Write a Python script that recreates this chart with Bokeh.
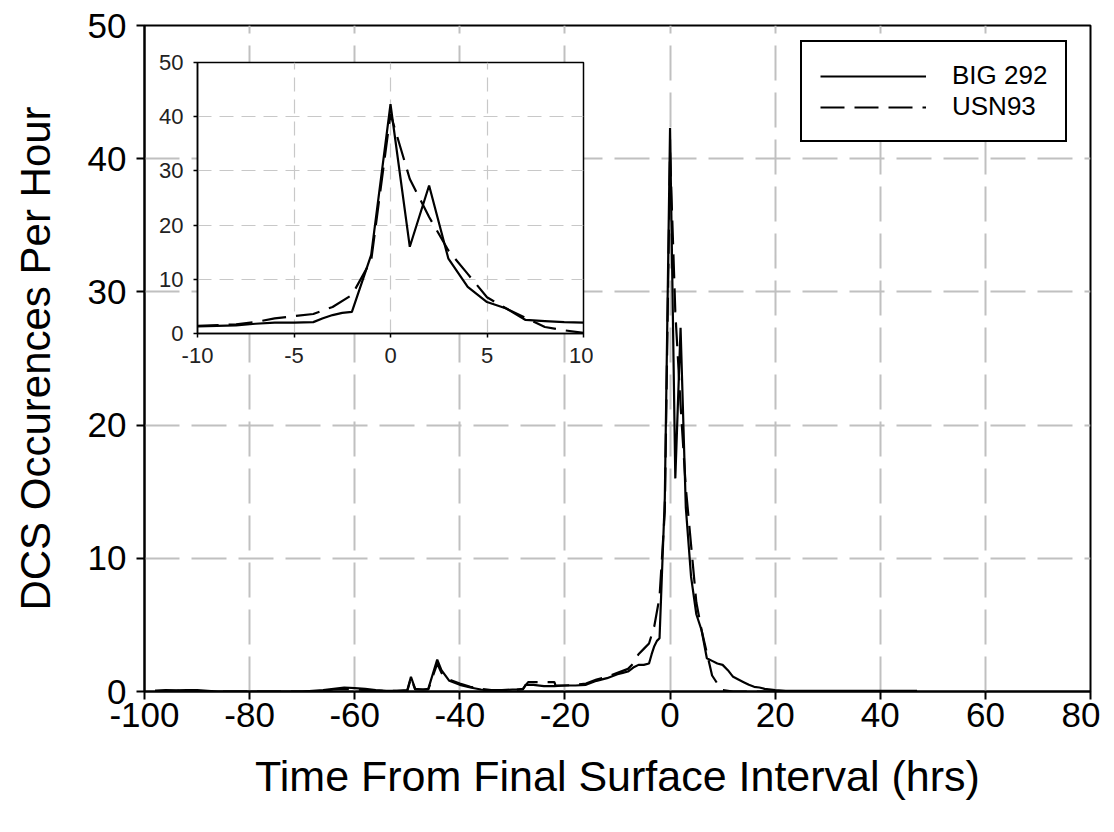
from bokeh.plotting import figure
from bokeh.layouts import column
from bokeh.models import Range1d, Legend, LegendItem
from bokeh.embed import file_html
from bokeh.resources import INLINE

# ---- data ----
big_x = [-98, -96, -94, -92, -90, -88, -86, -70, -66, -64, -62, -60, -58, -56, -54, -52, -50,
         -49.3, -48.5, -47, -46, -45, -44.3, -43.5, -42,
         -40, -38, -36, -34, -32, -30, -28, -27.5, -26, -24, -22, -20, -18, -16, -14, -12, -10,
         -9, -8, -7, -6, -5, -4, -3.5, -3, -2.5, -2, -1, 0,
         1, 2, 3, 4, 5, 6, 7, 8, 9, 10, 11, 12, 13, 14, 15, 16, 17, 18,
         20, 22, 30, 40, 47]
big_y = [0.05, 0.1, 0.08, 0.1, 0.1, 0.05, 0, 0, 0.1, 0.2, 0.3, 0.25, 0.2, 0.1, 0.05, 0.05, 0.1,
         1.1, 0.2, 0.15, 0.2, 1.5, 2.4, 1.6, 0.8,
         0.5, 0.3, 0.15, 0.05, 0.1, 0.15, 0.15, 0.5, 0.5, 0.4, 0.4, 0.45, 0.45, 0.5, 0.8, 1.0, 1.3,
         1.4, 1.5, 1.8, 2.0, 2.0, 2.1, 2.8, 3.4, 3.8, 4.0, 14.5, 42.3,
         16.0, 27.3, 13.8, 8.6, 5.8, 4.6, 2.5, 2.3, 2.1, 2.0, 1.6, 1.1, 0.9, 0.7, 0.5, 0.35, 0.3, 0.2,
         0.1, 0.05, 0.05, 0.05, 0.05]

usn_x = [-98, -90, -88, -70, -66, -64, -62, -60, -58, -56,
         -52, -50, -49.3, -48.5, -46, -45, -44.3, -43.5, -42, -40,
         -38, -36, -34, -30, -28, -27, -24, -22, -21.8, -20,
         -18, -16, -14, -12, -10, -8, -7, -6, -5, -4,
         -3, -2, -1, 0, 1, 2, 3, 4, 5, 6,
         7, 8, 9, 10, 12, 20, 47]
usn_y = [0.05, 0.05, 0, 0, 0.05, 0.15, 0.2, 0.15, 0.1, 0.05,
         0.05, 0.05, 1.0, 0.15, 0.15, 1.3, 2.1, 1.4, 0.9, 0.6,
         0.35, 0.2, 0.1, 0.1, 0.2, 0.7, 0.7, 0.7, 0.45, 0.45,
         0.5, 0.6, 0.9, 1.1, 1.4, 1.7, 2.1, 2.8, 3.2, 3.6,
         4.9, 7.1, 13.5, 40.5, 28.5, 21.5, 15.3, 11.0, 6.7, 4.6,
         2.9, 1.2, 0.6, 0.1, 0, 0, 0]

series_names = ["BIG 292", "USN93"]
main_x_ticks = [-100, -80, -60, -40, -20, 0, 20, 40, 60, 80]
main_y_ticks = [0, 10, 20, 30, 40, 50]
inset_x_ticks = [-10, -5, 0, 5, 10]
inset_y_ticks = [0, 10, 20, 30, 40, 50]

FONT = "Liberation Sans"
DASH = "24 10"
LEFT_BORDER = 144
RIGHT_BORDER = 10

# ---- main figure ----
p = figure(width=1100, height=816, x_range=Range1d(-100, 80), y_range=Range1d(0, 50),
           output_backend="svg", toolbar_location=None,
           min_border_left=LEFT_BORDER, min_border_right=RIGHT_BORDER,
           min_border_top=25, min_border_bottom=125)
p.background_fill_color = "white"
p.border_fill_color = "white"
p.outline_line_color = "black"
p.outline_line_width = 2

p.xaxis.ticker = main_x_ticks
p.yaxis.ticker = main_y_ticks
p.xaxis.major_label_overrides = {t: str(t) for t in main_x_ticks}
p.yaxis.major_label_overrides = {t: str(t) for t in main_y_ticks}
for ax in (p.xaxis[0], p.yaxis[0]):
    ax.axis_line_width = 2
    ax.axis_line_color = "black"
    ax.major_tick_line_width = 2
    ax.major_tick_line_color = "black"
    ax.major_tick_out = 8
    ax.major_tick_in = 0
    ax.minor_tick_line_color = None
    ax.major_label_text_font = FONT
    ax.major_label_text_font_size = "35px"
    ax.major_label_text_color = "black"
    ax.axis_label_text_font = FONT
    ax.axis_label_text_font_style = "normal"
    ax.axis_label_text_color = "black"
p.xaxis.axis_label = "Time From Final Surface Interval (hrs)"
p.yaxis.axis_label = "DCS Occurences Per Hour"
p.xaxis.axis_label_text_font_size = "43px"
p.yaxis.axis_label_text_font_size = "42px"
p.xaxis.major_label_standoff = 3
p.yaxis.major_label_standoff = 10
p.xaxis.axis_label_standoff = 22
p.yaxis.axis_label_standoff = 26

for g in (p.xgrid[0], p.ygrid[0]):
    g.grid_line_color = "#c0c0c0"
    g.grid_line_width = 2
    g.grid_line_dash = "35 12"

r1 = p.line(big_x, big_y, line_color="black", line_width=2.2)
r2 = p.line(usn_x, usn_y, line_color="black", line_width=2.2, line_dash=DASH)

legend = Legend(items=[LegendItem(label=series_names[0], renderers=[r1]),
                       LegendItem(label=series_names[1], renderers=[r2])],
                location=(656, 549), margin=0, padding=18, spacing=0,
                glyph_width=106, glyph_height=26, label_height=26, label_width=80,
                label_standoff=26, label_text_font=FONT, label_text_font_size="26px",
                label_text_color="black", border_line_color="black", border_line_width=2,
                border_line_alpha=1, background_fill_color="white", background_fill_alpha=1)
p.add_layout(legend)

# ---- inset figure (its left border is aligned with the main one by the column) ----
ins = figure(width=LEFT_BORDER + 386 + RIGHT_BORDER, height=318,
             x_range=Range1d(-10, 10), y_range=Range1d(0, 50),
             output_backend="svg", toolbar_location=None,
             min_border_left=LEFT_BORDER, min_border_right=RIGHT_BORDER,
             min_border_top=12, min_border_bottom=35)
ins.background_fill_color = "white"
ins.border_fill_color = None
ins.outline_line_color = "black"
ins.outline_line_width = 1.5
ins.xaxis.ticker = inset_x_ticks
ins.yaxis.ticker = inset_y_ticks
ins.xaxis.major_label_overrides = {t: str(t) for t in inset_x_ticks}
ins.yaxis.major_label_overrides = {t: str(t) for t in inset_y_ticks}
for ax in (ins.xaxis[0], ins.yaxis[0]):
    ax.axis_line_width = 1.5
    ax.axis_line_color = "black"
    ax.major_tick_line_width = 1.5
    ax.major_tick_line_color = "black"
    ax.major_tick_out = 4
    ax.major_tick_in = 0
    ax.minor_tick_line_color = None
    ax.major_label_text_font = FONT
    ax.major_label_text_font_size = "22px"
    ax.major_label_text_color = "#222222"
ins.xaxis.major_label_standoff = 10
ins.yaxis.major_label_standoff = 10
for g in (ins.xgrid[0], ins.ygrid[0]):
    g.grid_line_color = "#c8c8c8"
    g.grid_line_width = 1.2
    g.grid_line_dash = "14 8"
ins.line(big_x, big_y, line_color="black", line_width=2.2)
ins.line(usn_x, usn_y, line_color="black", line_width=2.2, line_dash=DASH)
ins.styles = {"position": "absolute", "left": "53px", "top": "50px", "z-index": "5"}

layout = column(p, ins, spacing=0)
open("out.html", "w").write(file_html(layout, INLINE))
